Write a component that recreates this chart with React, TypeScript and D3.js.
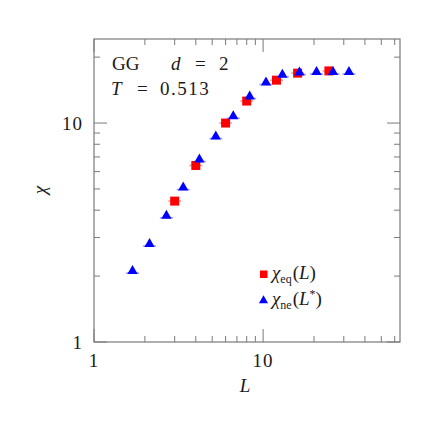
import React from 'react';
import * as d3 from 'd3';

// chi_eq(L), red squares
const eqL = [3, 4, 6, 8, 12, 16, 24.5];
const eqChi = [4.4, 6.4, 10.0, 12.6, 15.7, 16.9, 17.3];

// chi_ne(L*), blue triangles
const neL = [1.69, 2.13, 2.68, 3.37, 4.2, 5.25, 6.66, 8.33, 10.4, 13.0, 16.4, 20.7, 25.9, 32.2];
const neChi = [2.12, 2.82, 3.79, 5.1, 6.85, 8.72, 10.8, 13.3, 15.4, 16.7, 17.1, 17.2, 17.2, 17.2];

const xMajor = [1, 10];
const xMinor = [2, 3, 4, 5, 6, 7, 8, 9, 20, 30, 40, 50, 60];
const yMajor = [1, 10];
const yMinor = [2, 3, 4, 5, 6, 7, 8, 9, 20];

const W = 436;
const H = 436;
const M = { left: 94, right: 36, top: 39, bottom: 94 };
const FRAME = '#7a7a7a';
const INK = '#1a1a1a';
const SERIF = '"Liberation Serif", "DejaVu Serif", serif';

export default function App() {
    const x = d3.scaleLog().domain([1, 64.5]).range([M.left, W - M.right]);
    const y = d3.scaleLog().domain([1, 24.2]).range([H - M.bottom, M.top]);
    const [x0, x1] = x.range();
    const [y0, y1] = y.range();
    const tri = d3.symbol().type(d3.symbolTriangle).size(46)();

    const tick = (v: number, len: number, axis: 'x' | 'y', key: string) =>
        axis === 'x' ? (
            <g key={key}>
                <line x1={x(v)} x2={x(v)} y1={y0} y2={y0 - len} stroke={FRAME} />
                <line x1={x(v)} x2={x(v)} y1={y1} y2={y1 + len} stroke={FRAME} />
            </g>
        ) : (
            <g key={key}>
                <line x1={x0} x2={x0 + len} y1={y(v)} y2={y(v)} stroke={FRAME} />
                <line x1={x1} x2={x1 - len} y1={y(v)} y2={y(v)} stroke={FRAME} />
            </g>
        );

    return (
        <svg width={W} height={H} style={{ position: 'absolute', left: 0, top: 0, background: '#fff', fontFamily: SERIF }}>
            <rect x={x0} y={y1} width={x1 - x0} height={y0 - y1} fill="none" stroke={FRAME} strokeWidth={1.2} />
            {xMajor.map((v, i) => tick(v, 13, 'x', 'xM' + i))}
            {xMinor.map((v, i) => tick(v, 6, 'x', 'xm' + i))}
            {yMajor.map((v, i) => tick(v, 13, 'y', 'yM' + i))}
            {yMinor.map((v, i) => tick(v, 6, 'y', 'ym' + i))}

            {/* tick labels */}
            {xMajor.map(v => (
                <text key={'xl' + v} x={x(v)} y={y0 + 25} textAnchor="middle" fontSize={19} fill={INK}
                    letterSpacing={1}>{v}</text>
            ))}
            {yMajor.map(v => (
                <text key={'yl' + v} x={x0 - 11} y={y(v) + 7} textAnchor="end" fontSize={19} fill={INK}
                    letterSpacing={1}>{v}</text>
            ))}
            <text x={245} y={y0 + 50} textAnchor="middle" fontSize={19} fontStyle="italic" fill={INK}>L</text>
            <text transform="translate(46,190) rotate(-90)" textAnchor="middle" fontSize={19}
                fontStyle="italic" fill={INK}>χ</text>

            {/* error bars */}
            {neL.map((v, i) => (
                <line key={'ne' + i} x1={x(v) - 6.5} x2={x(v) + 6.5} y1={y(neChi[i]) + 2.5} y2={y(neChi[i]) + 2.5}
                    stroke="#9a9aff" strokeWidth={1.5} />
            ))}
            {eqL.map((v, i) => (
                <line key={'ee' + i} x1={x(v) - 6.5} x2={x(v) + 6.5} y1={y(eqChi[i])} y2={y(eqChi[i])}
                    stroke="#ff9a9a" strokeWidth={1.5} />
            ))}

            {/* markers */}
            {eqL.map((v, i) => (
                <rect key={'eq' + i} x={x(v) - 4.5} y={y(eqChi[i]) - 4.5} width={9} height={9} fill="#ff0000" />
            ))}
            {neL.map((v, i) => (
                <path key={'n' + i} d={tri} transform={`translate(${x(v)},${y(neChi[i]) + 0.5})`} fill="#0000ff" />
            ))}

            {/* annotation */}
            <text y={70} fontSize={19} fill={INK}>
                <tspan x={112}>GG</tspan>
                <tspan x={171} fontStyle="italic">d</tspan>
                <tspan x={195}>=</tspan>
                <tspan x={219}>2</tspan>
            </text>
            <text y={95} fontSize={19} fill={INK}>
                <tspan x={111} fontStyle="italic">T</tspan>
                <tspan x={137}>=</tspan>
                <tspan x={160} letterSpacing={1.5}>0.513</tspan>
            </text>

            {/* legend */}
            <rect x={260} y={270.5} width={7.5} height={7.5} fill="#ff0000" />
            <text x={272} y={279} fontSize={19} fill={INK}>
                <tspan fontStyle="italic">χ</tspan>
                <tspan fontSize={12} dy={4}>eq</tspan>
                <tspan dy={-4} dx={1}>(</tspan>
                <tspan fontStyle="italic">L</tspan>
                <tspan>)</tspan>
            </text>
            <path d={d3.symbol().type(d3.symbolTriangle).size(36)()} transform="translate(263.5,300.5)" fill="#0000ff" />
            <text x={272} y={305} fontSize={19} fill={INK}>
                <tspan fontStyle="italic">χ</tspan>
                <tspan fontSize={12} dy={4}>ne</tspan>
                <tspan dy={-4} dx={1}>(</tspan>
                <tspan fontStyle="italic">L</tspan>
                <tspan fontSize={12} dy={-7}>*</tspan>
                <tspan dy={7}>)</tspan>
            </text>
        </svg>
    );
}
